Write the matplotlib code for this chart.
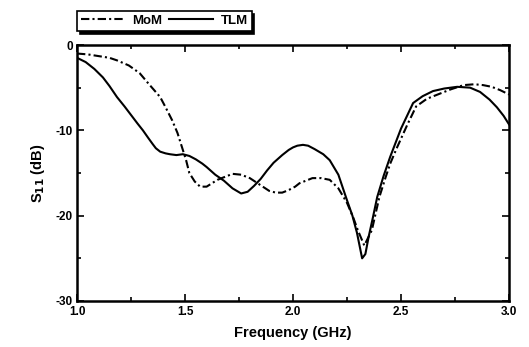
import numpy as np
import matplotlib.pyplot as plt
from matplotlib.ticker import MultipleLocator, FormatStrFormatter

plt.rcParams['font.family'] = ['Liberation Sans', 'DejaVu Sans']
plt.rcParams['font.weight'] = 'bold'
plt.rcParams['mathtext.default'] = 'bf'

# MoM curve (dash-dot)
mom_f = [1.00, 1.05, 1.10, 1.15, 1.185, 1.24, 1.29, 1.33, 1.385, 1.41, 1.44, 1.465,
         1.485, 1.505, 1.52, 1.545, 1.57, 1.60, 1.65, 1.69, 1.72, 1.76, 1.80, 1.83,
         1.86, 1.89, 1.92, 1.95, 1.98, 2.01, 2.03, 2.06, 2.09, 2.13, 2.17, 2.21,
         2.25, 2.28, 2.30, 2.33, 2.365, 2.40, 2.43, 2.45, 2.48, 2.53, 2.57, 2.62,
         2.68, 2.73, 2.79, 2.84, 2.88, 2.92, 2.96, 3.00]
mom_s = [-1.0, -1.1, -1.3, -1.5, -1.8, -2.4, -3.3, -4.5, -6.1, -7.3, -8.8, -10.3,
         -11.9, -13.5, -15.0, -16.0, -16.6, -16.6, -15.8, -15.4, -15.1, -15.2, -15.6, -16.1,
         -16.6, -17.1, -17.3, -17.3, -17.0, -16.6, -16.2, -15.9, -15.6, -15.6, -15.8, -16.8,
         -18.5, -20.3, -21.7, -23.5, -21.7, -17.8, -15.4, -13.9, -12.1, -9.3, -7.2, -6.3,
         -5.7, -5.2, -4.7, -4.6, -4.7, -4.9, -5.3, -5.8]

# TLM curve (solid)
tlm_f = [1.00, 1.04, 1.08, 1.12, 1.15, 1.185, 1.22, 1.25, 1.28, 1.305, 1.33, 1.35,
         1.365, 1.385, 1.41, 1.43, 1.46, 1.49, 1.52, 1.55, 1.58, 1.60, 1.64, 1.68,
         1.72, 1.76, 1.79, 1.82, 1.85, 1.88, 1.91, 1.95, 1.98, 2.00, 2.02, 2.046,
         2.07, 2.10, 2.14, 2.17, 2.21, 2.25, 2.275, 2.296, 2.32, 2.335, 2.35, 2.37,
         2.39, 2.42, 2.45, 2.50, 2.556, 2.60, 2.648, 2.70, 2.76, 2.82, 2.866, 2.91,
         2.944, 2.975, 3.00]
tlm_s = [-1.5, -2.0, -2.8, -3.8, -4.8, -6.1, -7.2, -8.2, -9.2, -10.0, -10.9, -11.6,
         -12.1, -12.5, -12.7, -12.8, -12.9, -12.8, -13.0, -13.4, -13.9, -14.3, -15.2, -15.9,
         -16.8, -17.4, -17.2, -16.5, -15.7, -14.7, -13.8, -12.9, -12.3, -12.0, -11.8, -11.7,
         -11.8, -12.2, -12.8, -13.5, -15.2, -18.2, -20.0, -22.0, -25.0, -24.5, -22.5, -20.2,
         -17.8, -15.3, -13.1, -9.8, -6.8, -6.0, -5.4, -5.1, -4.9, -5.0, -5.5, -6.4,
         -7.3, -8.3, -9.3]

fig = plt.figure(figsize=(5.29, 3.47), dpi=100)
ax = fig.add_axes([0.1456, 0.1326, 0.8166, 0.7377])

ax.plot(mom_f, mom_s, color='black', lw=1.5, linestyle=(0, (4, 1.5, 1, 1.5)), label='MoM')
ax.plot(tlm_f, tlm_s, color='black', lw=1.5, label='TLM')

ax.set_xlim(1.0, 3.0)
ax.set_ylim(-30, 0)
ax.xaxis.set_major_locator(MultipleLocator(0.5))
ax.xaxis.set_minor_locator(MultipleLocator(0.25))
ax.yaxis.set_major_locator(MultipleLocator(10))
ax.yaxis.set_minor_locator(MultipleLocator(5))
ax.xaxis.set_major_formatter(FormatStrFormatter('%.1f'))
ax.yaxis.set_major_formatter(FormatStrFormatter('%d'))
ax.tick_params(which='both', direction='in', top=True, right=True, width=1.2)
ax.tick_params(which='major', length=5, labelsize=8.5)
ax.tick_params(axis='x', which='major', pad=3.5)
ax.tick_params(axis='y', which='major', pad=3)
ax.tick_params(which='minor', length=3)
for sp in ax.spines.values():
    sp.set_linewidth(1.8)

ax.set_xlabel('Frequency (GHz)', fontsize=10.5, fontweight='bold', labelpad=6)
ax.set_ylabel('S$_{11}$ (dB)', fontsize=10.5, fontweight='bold', labelpad=6)

leg = ax.legend(loc='lower left', bbox_to_anchor=(0.0, 1.055), ncol=2, frameon=True,
                fancybox=False, shadow={'color': 'black', 'alpha': 1.0},
                edgecolor='black', fontsize=9.5, handlelength=3.3, columnspacing=0.5,
                handletextpad=0.6, borderpad=0.3, borderaxespad=0)
leg.get_frame().set_linewidth(1.2)
for t in leg.get_texts():
    t.set_fontweight('bold')

plt.savefig('out.png', dpi=100)
